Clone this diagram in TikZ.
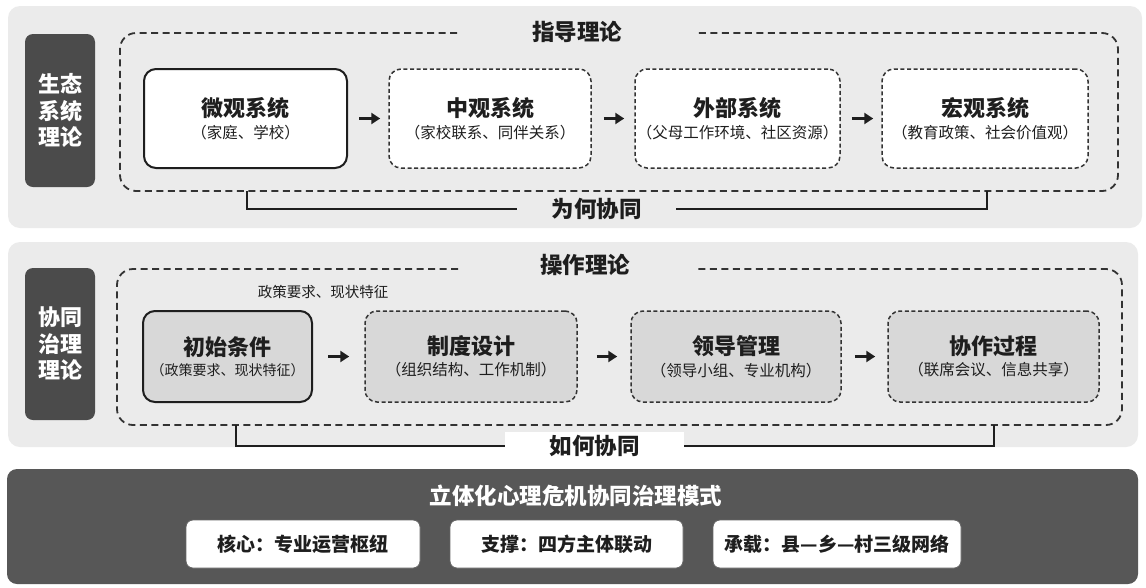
\documentclass[tikz,border=0pt]{standalone}
\usepackage{fontspec}
\setmainfont{Noto Sans CJK SC}
\usetikzlibrary{calc,arrows.meta}
\definecolor{panelbg}{HTML}{EBEBEB}
\definecolor{darkbox}{HTML}{4B4B4B}
\definecolor{bottombg}{HTML}{575757}
\definecolor{graybox}{HTML}{D8D8D8}
\definecolor{ink}{HTML}{1E1E1E}
\definecolor{dashc}{HTML}{333333}
\newcommand{\bt}[3][15.5]{{\fontsize{22}{26}\selectfont\bfseries #2}\\[5pt]{\fontsize{#1}{19}\selectfont #3}}
\begin{document}
\begin{tikzpicture}[x=1pt,y=1pt,
  panel/.style={fill=panelbg, rounded corners=12pt, draw=none, inner sep=0pt},
  sidelabel/.style={fill=darkbox, rounded corners=8pt, text=white, align=center, inner sep=0pt,
     font=\fontsize{22}{26.5}\selectfont\bfseries},
  solidbox/.style={draw=ink, line width=2pt, rounded corners=12pt, align=center, inner sep=0pt, text=ink},
  dashbox/.style={draw=dashc, line width=1.5pt, dash pattern=on 4pt off 2.6pt, rounded corners=12pt, align=center, inner sep=0pt, text=ink},
  container/.style={draw=dashc, line width=1.8pt, dash pattern=on 7pt off 4.5pt, rounded corners=16pt},
  ttl/.style={font=\fontsize{22.5}{26}\selectfont\bfseries, text=ink, inner sep=0pt},
  bracket/.style={draw=ink, line width=2.2pt},
  arr/.style={draw=ink, line width=3pt, -{Triangle[length=9pt,width=11pt]}},
  whitebox/.style={fill=white, draw=black!60, line width=0.8pt, rounded corners=7pt, inner sep=0pt,
     font=\fontsize{19}{22}\selectfont\bfseries, text=ink}
]
\useasboundingbox (0,0) rectangle (1146,-587);
\fill[white] (0,0) rectangle (1146,-587);

% ---------- panel 1 ----------
\node[panel, minimum width=1134pt, minimum height=222pt] (p1) at (575,-117) {};
\node[sidelabel, minimum width=70pt, minimum height=153pt] (eco) at (60,-110.5) {生态\\系统\\理论};
\draw[container] (457,-33) -- (120,-33) -- (120,-191) -- (1118,-191) -- (1118,-33) -- (698,-33);
\node[ttl] (guide) at (577,-32) {指导理论};

\node[solidbox, fill=white, minimum width=203pt, minimum height=99pt] (micro) at (245.5,-118.5) {\bt{微观系统}{（家庭、学校）}};
\node[dashbox, fill=white, minimum width=202pt, minimum height=99pt] (meso) at (490,-118.5) {\bt{中观系统}{（家校联系、同伴关系）}};
\node[dashbox, fill=white, minimum width=205pt, minimum height=99pt] (exo) at (737.5,-118.5) {\bt{外部系统}{（父母工作环境、社区资源）}};
\node[dashbox, fill=white, minimum width=206pt, minimum height=99pt] (macro) at (985,-118.5) {\bt{宏观系统}{（教育政策、社会价值观）}};

\draw[arr] ([xshift=11pt]micro.east) -- ([xshift=-8pt]meso.west);
\draw[arr] ([xshift=12pt]meso.east) -- ([xshift=-10pt]exo.west);
\draw[arr] ([xshift=11pt]exo.east) -- ([xshift=-8pt]macro.west);

\node[ttl, fill=panelbg, minimum width=159pt, minimum height=24pt] (why) at (596.5,-209) {为何协同};
\coordinate (why l) at (247,-191);
\coordinate (why r) at (987,-191);
\draw[bracket] (why l) |- (why.west);
\draw[bracket] (why r) |- (why.east);

% ---------- panel 2 ----------
\node[panel, minimum width=1130pt, minimum height=205pt] (p2) at (573,-344.5) {};
\node[sidelabel, minimum width=70pt, minimum height=152pt] (gov) at (60,-344) {协同\\治理\\理论};
\draw[container] (458,-269) -- (117,-269) -- (117,-425) -- (1122,-425) -- (1122,-269) -- (698,-269);
\node[ttl] (oper) at (585,-265) {操作理论};
\node[font=\fontsize{14.5}{17}\selectfont, text=ink, inner sep=0pt] (note) at (323,-292) {政策要求、现状特征};

\node[solidbox, fill=graybox, minimum width=169pt, minimum height=91pt] (init) at (227.5,-356.5) {\bt[14]{初始条件}{（政策要求、现状特征）}};
\node[dashbox, fill=graybox, minimum width=212pt, minimum height=91pt] (inst) at (471,-356.5) {\bt{制度设计}{（组织结构、工作机制）}};
\node[dashbox, fill=graybox, minimum width=210pt, minimum height=91pt] (lead) at (736,-356.5) {\bt{领导管理}{（领导小组、专业机构）}};
\node[dashbox, fill=graybox, minimum width=211pt, minimum height=91pt] (coop) at (993.5,-356.5) {\bt{协作过程}{（联席会议、信息共享）}};

\draw[arr] ([xshift=15pt]init.east) -- ([xshift=-15pt]inst.west);
\draw[arr] ([xshift=19pt]inst.east) -- ([xshift=-13pt]lead.west);
\draw[arr] ([xshift=13pt]lead.east) -- ([xshift=-12pt]coop.west);

\node[ttl, fill=white, minimum width=179pt, minimum height=28pt] (how) at (594.5,-446) {如何协同};
\coordinate (how l) at (236,-425);
\coordinate (how r) at (994,-425);
\draw[bracket] (how l) |- (how.west);
\draw[bracket] (how r) |- (how.east);

% ---------- panel 3 ----------
\node[fill=bottombg, rounded corners=10pt, minimum width=1131pt, minimum height=115pt, inner sep=0pt] (model) at (572.5,-526.5) {};
\node[ttl, text=white] (modelt) at (576,-496) {立体化心理危机协同治理模式};
\node[whitebox, minimum width=234pt, minimum height=48pt] (core) at (303,-544) {核心：专业运营枢纽};
\node[whitebox, minimum width=233pt, minimum height=48pt] (supp) at (566.5,-544) {支撑：四方主体联动};
\node[whitebox, minimum width=248pt, minimum height=48pt] (carry) at (837,-544) {承载：县—乡—村三级网络};
\end{tikzpicture}
\end{document}
